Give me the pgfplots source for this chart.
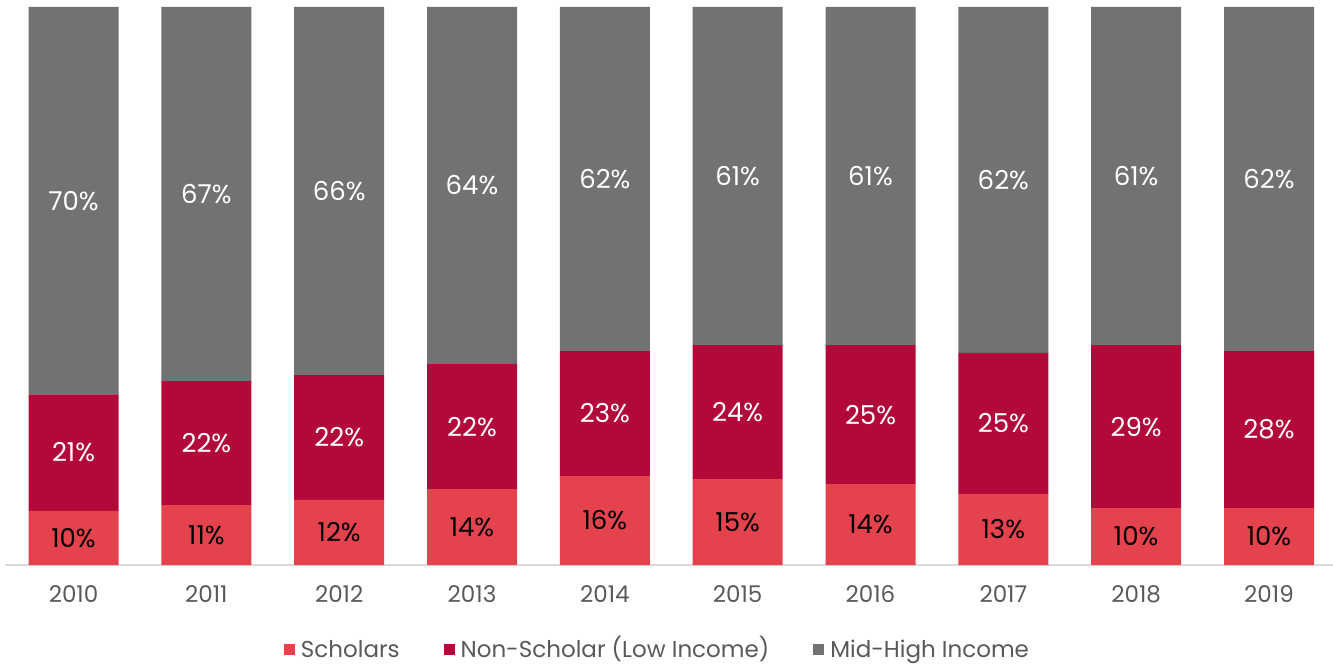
\documentclass[border=0pt]{standalone}
\usepackage{pgfplots}
\pgfplotsset{compat=1.18}
\usepackage{fontspec}
\setmainfont{Poppins}
\definecolor{cS}{HTML}{E4434E}
\definecolor{cN}{HTML}{B2093A}
\definecolor{cM}{HTML}{727174}
\definecolor{cT}{HTML}{595959}
\definecolor{cAx}{HTML}{D9D9D9}
\begin{document}
\begin{tikzpicture}[x=1pt,y=1pt]
\path[use as bounding box] (-5,-99) rectangle (1328,565);
\pgfplotsset{
  base/.style={
    scale only axis, width=1328pt, height=558pt,
    xmin=-0.516, xmax=9.482, ymin=0, ymax=100,
    anchor=south west, at={(0,0)},
  }
}
\begin{axis}[base,
  ybar stacked, bar width=90pt,
  axis x line*=bottom, axis y line=none,
  x axis line style={draw=cAx, line width=2.5pt},
  xtick={0,...,9}, xticklabels={2010,2011,2012,2013,2014,2015,2016,2017,2018,2019},
  major tick length=0pt,
  xticklabel style={font=\fontsize{23}{28}\selectfont, text=cT, anchor=base, inner sep=0pt, yshift=-37.5pt},
  legend style={at={(rel axis cs:0.4913,-0.1572)}, anchor=center, draw=none, fill=none,
    legend columns=-1, font=\fontsize{23}{28}\selectfont, text=cT,
    nodes={text height=0.72em, text depth=0.2em},
    /tikz/every odd column/.append style={column sep=4pt},
    /tikz/every even column/.append style={column sep=42pt},
    inner sep=0pt},
  legend image code/.code={\fill[#1] (0pt,0.5pt) rectangle (11pt,11.5pt);},
]
\addplot[fill=cS, draw=none] coordinates {(0,9.7) (1,10.75) (2,11.65) (3,13.6) (4,15.95) (5,15.4) (6,14.5) (7,12.7) (8,10.2) (9,10.2)};
\addplot[fill=cN, draw=none] coordinates {(0,20.9) (1,22.2) (2,22.4) (3,22.4) (4,22.4) (5,24.0) (6,24.9) (7,25.3) (8,29.2) (9,28.15)};
\addplot[fill=cM, draw=none] coordinates {(0,69.4) (1,67.05) (2,65.95) (3,64.0) (4,61.65) (5,60.6) (6,60.6) (7,62.0) (8,60.6) (9,61.65)};
\legend{Scholars,Non-Scholar (Low Income),Mid-High Income}
\end{axis}
\begin{axis}[base, axis lines=none,
  every node near coord/.style={anchor=center, font=\fontsize{26}{30}\selectfont, inner sep=0pt},
  nodes near coords, point meta=explicit symbolic]
\addplot[draw=none, nodes near coords={\color{black}\pgfplotspointmeta}] coordinates {(0,4.85) [10\%] (1,5.375) [11\%] (2,5.825) [12\%] (3,6.8) [14\%] (4,7.975) [16\%] (5,7.7) [15\%] (6,7.25) [14\%] (7,6.35) [13\%] (8,5.1) [10\%] (9,5.1) [10\%]};
\addplot[draw=none, nodes near coords={\color{white}\pgfplotspointmeta}] coordinates {(0,20.15) [21\%] (1,21.85) [22\%] (2,22.85) [22\%] (3,24.8) [22\%] (4,27.15) [23\%] (5,27.4) [24\%] (6,26.95) [25\%] (7,25.35) [25\%] (8,24.8) [29\%] (9,24.275) [28\%]};
\addplot[draw=none, nodes near coords={\color{white}\pgfplotspointmeta}] coordinates {(0,65.3) [70\%] (1,66.475) [67\%] (2,67.025) [66\%] (3,68.0) [64\%] (4,69.175) [62\%] (5,69.7) [61\%] (6,69.7) [61\%] (7,69.0) [62\%] (8,69.7) [61\%] (9,69.175) [62\%]};
\end{axis}
\end{tikzpicture}
\end{document}
